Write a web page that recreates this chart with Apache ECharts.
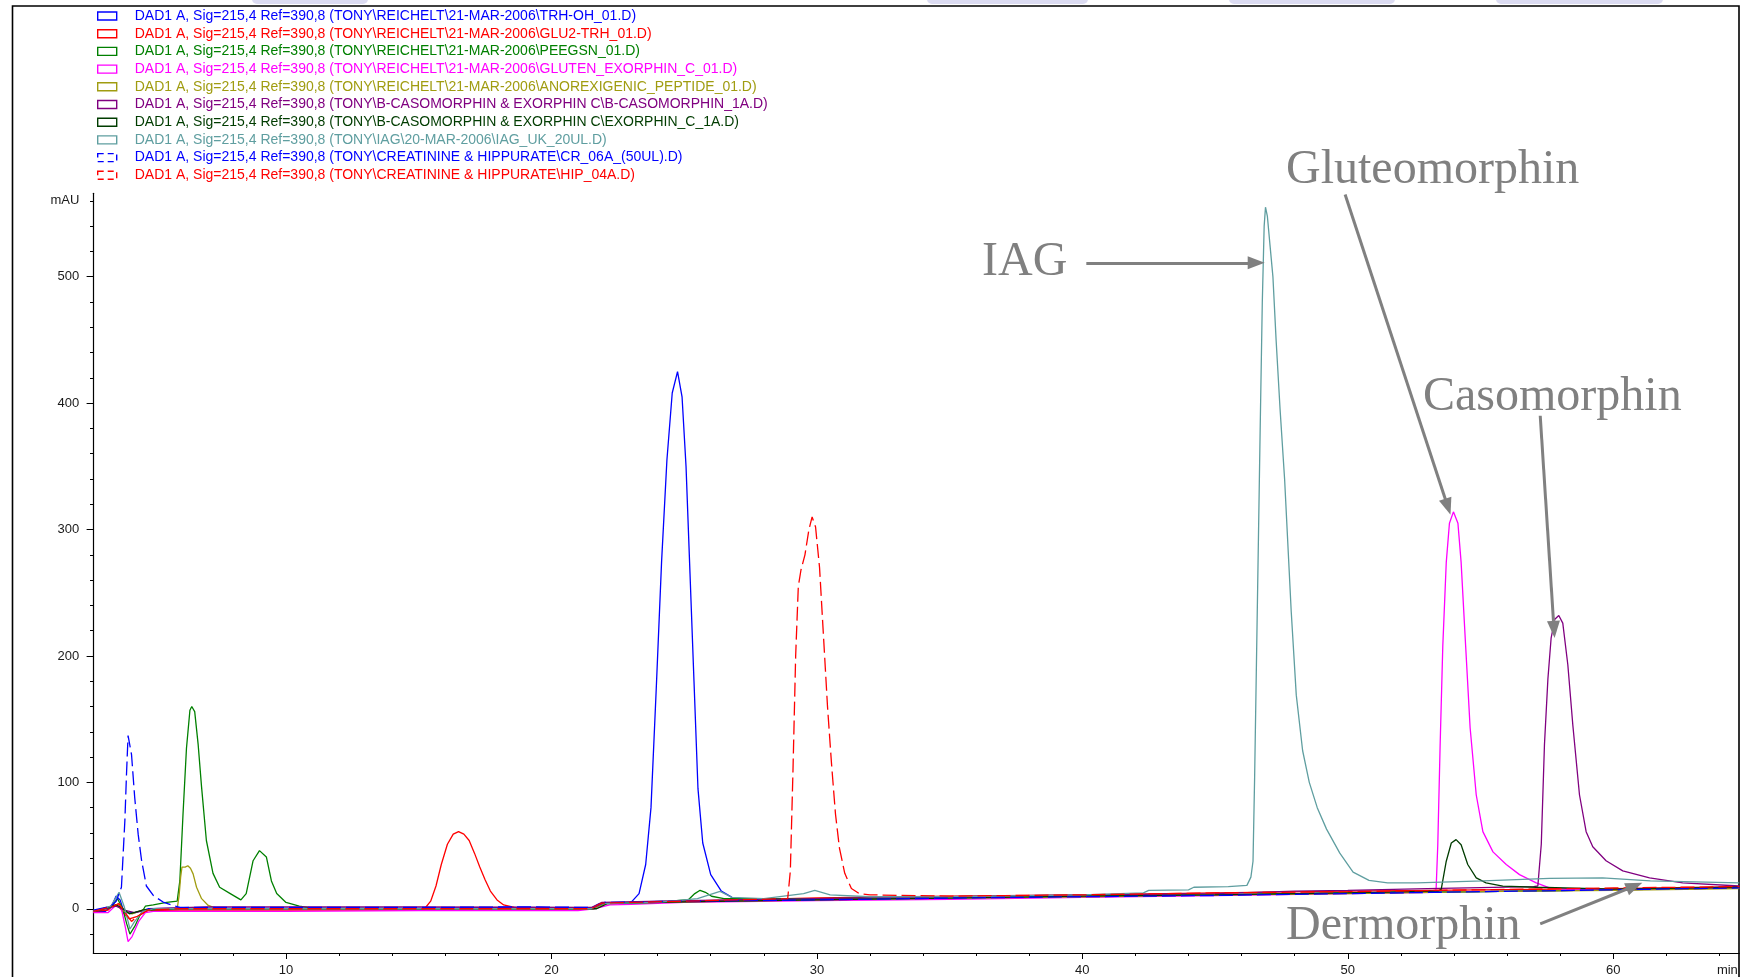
<!DOCTYPE html>
<html>
<head>
<meta charset="utf-8">
<title>HPLC overlay</title>
<script src="https://cdn.jsdelivr.net/npm/echarts@6/dist/echarts.min.js"></script>
<style>html,body{margin:0;padding:0;background:#fff}#main{width:1750px;height:977px}</style>
</head>
<body>
<div id="main"></div>
<script>
var pre = 'DAD1 A, Sig=215,4 Ref=390,8 ';
var names = [
    pre + '(TONY\\REICHELT\\21-MAR-2006\\TRH-OH_01.D)',
    pre + '(TONY\\REICHELT\\21-MAR-2006\\GLU2-TRH_01.D)',
    pre + '(TONY\\REICHELT\\21-MAR-2006\\PEEGSN_01.D)',
    pre + '(TONY\\REICHELT\\21-MAR-2006\\GLUTEN_EXORPHIN_C_01.D)',
    pre + '(TONY\\REICHELT\\21-MAR-2006\\ANOREXIGENIC_PEPTIDE_01.D)',
    pre + '(TONY\\B-CASOMORPHIN & EXORPHIN C\\B-CASOMORPHIN_1A.D)',
    pre + '(TONY\\B-CASOMORPHIN & EXORPHIN C\\EXORPHIN_C_1A.D)',
    pre + '(TONY\\IAG\\20-MAR-2006\\IAG_UK_20UL.D)',
    pre + '(TONY\\CREATININE & HIPPURATE\\CR_06A_(50UL).D)',
    pre + '(TONY\\CREATININE & HIPPURATE\\HIP_04A.D)'
];
var colors = ['#0000ff', '#ff0000', '#008000', '#ff00ff', '#a09c10', '#800080', '#003c00', '#5f9ea0', '#0000ff', '#ff0000'];
var dashed = [false, false, false, false, false, false, false, false, true, true];

// [min, mAU]
var trhOh = [[2.74,-2],[3.2,-2],[3.45,3],[3.6,10],[3.75,7],[3.9,-3],[4.3,-3],[4.8,0],[6,0.5],[10,0.5],[15,0.5],[19,1],[21.5,0.5],[21.8,4],[23.0,5],[23.3,12],[23.55,35],[23.75,80],[23.95,175],[24.15,275],[24.35,355],[24.55,408],[24.75,425],[24.92,405],[25.07,350],[25.22,265],[25.37,180],[25.52,95],[25.7,52],[26.0,27],[26.4,14],[26.8,9],[27.5,7],[30,7.5],[35,9],[40,10],[45,11],[50,12.5],[55,13.5],[60,15],[64.75,16.5]];
var glu2Trh = [[2.74,-2],[3.3,-1],[3.5,3],[3.7,2],[3.9,-4],[4.1,-8],[4.4,-6],[4.8,-1.5],[6,-1],[10,-1],[15,-1],[15.22,0],[15.45,6],[15.65,18],[15.85,35],[16.08,51],[16.3,59],[16.5,61],[16.7,59],[16.9,54],[17.1,44],[17.3,33],[17.5,23],[17.7,14],[17.95,7],[18.2,3],[18.6,1],[19,0],[21.4,-0.5],[21.9,4],[25,6],[30,8.5],[35,10],[40,11],[45,12.5],[50,14],[55,15],[60,16],[64.75,17.5]];
var peegsn = [[2.74,-2],[3.4,1],[3.65,8],[3.85,0],[4.0,-12],[4.12,-20],[4.3,-14],[4.5,-5],[4.7,2],[5.0,3],[5.5,5],[5.9,6],[6.0,22],[6.12,75],[6.25,127],[6.38,157],[6.45,160],[6.56,156],[6.69,130],[6.82,96],[7.0,54],[7.25,28],[7.5,17],[7.9,12],[8.3,7],[8.5,12],[8.76,38],[9.0,46],[9.26,41],[9.45,22],[9.65,12],[10.0,5],[10.5,2],[11,0.5],[15,0],[21.5,0],[21.9,4.5],[24.5,6],[25.17,7.3],[25.4,12],[25.6,14.6],[25.8,13],[26.03,9.9],[26.5,8],[30,8],[35,9],[40,10],[45,11],[50,12.5],[55,13.5],[60,15],[64.75,16.5]];
var glutenExorphin = [[2.74,-3],[3.3,-3],[3.6,3],[3.8,0],[3.95,-15],[4.05,-26],[4.2,-22],[4.45,-10],[4.7,-3],[5,-2],[10,-2],[15,-1.5],[21,-1.5],[21.6,0],[22.2,3],[23,3.5],[25,5],[30,6.5],[35,7.5],[40,9],[45,10.5],[50,12],[53.3,13],[53.33,16.6],[53.39,50],[53.48,130],[53.58,208],[53.71,274],[53.83,305],[53.98,314],[54.15,305],[54.27,274],[54.44,208],[54.61,143],[54.84,90],[55.09,61],[55.47,45],[55.97,35],[56.47,27],[57.1,20.5],[57.6,16.6],[58.5,15],[60,15],[64.75,16.5]];
var anorexigenic = [[2.74,-2],[3.5,2],[3.7,4],[3.9,-2],[4.2,-4],[4.6,-1],[5.9,0],[5.97,10],[6.03,25],[6.08,33],[6.2,33],[6.3,34],[6.4,32],[6.5,27.6],[6.63,17],[6.82,8],[7.07,2.6],[7.25,1.3],[7.6,0],[15,0],[21.6,0],[22,4],[25,5.5],[30,7],[35,8.5],[40,9.5],[45,11],[50,12],[55,13.5],[60,14.5],[64.75,16]];
var casomorphin = [[2.74,-2],[3.6,2],[3.9,-1],[4.3,-3],[5,0],[7,1.5],[15,1.5],[21.5,1],[21.9,5],[25,6.5],[30,8],[35,9.5],[40,11],[45,12],[48,14],[50,14.5],[53,16],[57,17.5],[57.16,18],[57.29,51],[57.41,130],[57.54,182],[57.66,214],[57.8,229],[57.95,232],[58.1,226],[58.29,193],[58.48,145],[58.73,90],[58.98,61],[59.23,49],[59.73,38],[60.36,30],[61.37,24.5],[62.62,20.5],[64.75,18]];
var exorphinC = [[2.74,-2],[3.6,3],[3.8,1],[4.1,-4],[4.6,-1],[6,0],[15,0],[21.7,0],[22.1,4],[25,5.5],[30,7],[35,8.5],[40,10],[45,11],[50,12.5],[53.4,14],[53.52,15.3],[53.71,37.6],[53.9,52],[54.08,54.7],[54.27,50.7],[54.52,35],[54.84,24.4],[55.21,20.5],[55.84,17.9],[57.1,17],[60,15.5],[64.75,17]];
var iag = [[2.74,-2],[3.4,2],[3.71,13],[3.9,2],[4.05,-10],[4.12,-16],[4.3,-10],[4.6,-2],[5,0],[10,0],[15,0],[21.5,0],[21.9,4],[24,5],[25.5,8],[26.35,13.8],[26.8,9],[28,8],[29.5,12],[29.92,14.6],[30.5,11],[32,9.5],[35,9.5],[40,11],[42.3,12.5],[42.5,14.5],[44,15],[44.2,17],[45.5,17.5],[46.2,18.5],[46.35,25],[46.43,37.6],[46.49,103],[46.55,182],[46.61,261],[46.7,380],[46.78,480],[46.85,540],[46.9,555],[46.97,548],[47.07,525],[47.18,500],[47.3,450],[47.45,395],[47.62,340],[47.87,235],[48.06,169],[48.3,125],[48.55,100],[48.85,80],[49.2,63],[49.7,44],[50.2,29],[50.8,22.5],[51.5,20.5],[52.6,20.5],[55.1,22],[57.6,24],[59.6,24.4],[61.4,22],[64.75,20.5]];
var cr06a = [[2.74,-1],[3.4,2],[3.6,6],[3.8,17],[3.93,70],[3.99,106],[4.05,137],[4.12,136],[4.18,122],[4.3,88],[4.43,59],[4.56,38],[4.74,18],[5.0,10.5],[5.37,5.3],[5.75,2.6],[6.0,1],[10,1],[15,1],[19,1.5],[21.6,1],[22,5],[25,6],[30,7],[35,8.5],[40,9.5],[45,10.5],[50,12],[55,13.5],[60,15],[64.75,16.5]];
var hip04a = [[2.74,-2],[3.5,2],[3.7,4],[3.9,-2],[4.18,-10],[4.4,-6],[4.8,-1],[6,0],[15,0],[21.5,0],[21.9,4.5],[25,6],[28.9,8],[29.0,30],[29.1,110],[29.2,200],[29.3,255],[29.4,268],[29.55,280],[29.7,300],[29.82,310],[29.95,302],[30.1,270],[30.25,215],[30.4,160],[30.55,115],[30.7,75],[30.85,48],[31.05,28],[31.3,16],[31.6,12],[32,11],[35,10],[40,11],[45,12.5],[50,13.5],[55,15],[60,16.5],[64.75,17.5]];
var traces = [trhOh, glu2Trh, peegsn, glutenExorphin, anorexigenic, casomorphin, exorphinC, iag, cr06a, hip04a];

var xTicks = [4,6,8,10,12,14,16,18,20,22,24,26,28,30,32,34,36,38,40,42,44,46,48,50,52,54,56,58,60,62,64];
var xLabels = [10, 20, 30, 40, 50, 60];
var yTicks = [-20,0,20,40,60,80,100,120,140,160,180,200,220,240,260,280,300,320,340,360,380,400,420,440,460,480,500,520,540,560];
var yLabels = [0, 100, 200, 300, 400, 500];

// arrows: [from, to] in [min, mAU]; the 'to' point is where the triangle head sits
var arrows = [
    [[40.15, 511], [46.55, 511]],
    [[49.9, 565], [53.77, 318]],
    [[57.25, 390], [57.77, 221]],
    [[57.25, -12], [60.8, 18]]
];

var myChart = echarts.init(document.getElementById('main'));

var series = traces.map(function (d, i) {
    var s = {
        name: names[i],
        type: 'line',
        data: d,
        showSymbol: false,
        symbol: 'none',
        smooth: false,
        silent: true,
        lineStyle: { color: colors[i], width: 1.3, type: dashed[i] ? [14, 5] : 'solid' },
        itemStyle: { color: colors[i] }
    };
    if (i === 7) {
        s.markLine = {
            silent: true,
            symbol: ['none', 'triangle'],
            symbolSize: [13, 17],
            label: { show: false },
            lineStyle: { color: '#808080', width: 3, type: 'solid' },
            emphasis: { disabled: true },
            data: arrows.map(function (a) {
                return [{ coord: a[0] }, { coord: a[1] }];
            })
        };
    }
    return s;
});

var serif = { fontFamily: 'Liberation Serif', fontSize: 48, fill: '#808080' };
function note(text, x, y) {
    return { type: 'text', x: x, y: y, silent: true,
        style: Object.assign({ text: text, verticalAlign: 'middle' }, serif) };
}

myChart.setOption({
    animation: false,
    backgroundColor: '#fff',
    grid: { left: 93.3, right: 10.7, top: 193.3, bottom: 21.3 },
    legend: {
        orient: 'vertical',
        left: 97,
        top: 9,
        padding: 0,
        itemWidth: 19,
        itemHeight: 8,
        itemGap: 3.7,
        selectedMode: false,
        textStyle: { fontFamily: 'Liberation Sans', fontSize: 14, lineHeight: 14, padding: [0, 0, 0, 13] },
        data: names.map(function (n, i) {
            return {
                name: n,
                icon: 'rect',
                itemStyle: { color: '#fff', borderColor: colors[i], borderWidth: 1.4, borderType: dashed[i] ? [6, 4] : 'solid' },
                textStyle: { color: colors[i] }
            };
        })
    },
    xAxis: [{
        type: 'value', min: 2.74, max: 64.75,
        axisLine: { onZero: false, lineStyle: { color: '#000', width: 1.2 } },
        axisTick: { customValues: xTicks, length: 3, lineStyle: { color: '#000' } },
        axisLabel: {
            customValues: xLabels.concat([64.3]), margin: 11,
            fontFamily: 'Liberation Sans', fontSize: 13, color: '#1a1a1a',
            formatter: function (v) { return v > 64 ? 'min' : v; }
        },
        splitLine: { show: false }
    }, {
        type: 'value', min: 2.74, max: 64.75, position: 'bottom',
        axisLine: { show: false, onZero: false },
        axisTick: { customValues: xLabels, length: 6, lineStyle: { color: '#000' } },
        axisLabel: { show: false },
        splitLine: { show: false }
    }],
    yAxis: [{
        type: 'value', min: -35, max: 566,
        axisLine: { show: true, onZero: false, lineStyle: { color: '#000', width: 1.2 } },
        axisTick: { show: true, customValues: yTicks, length: 3.3, lineStyle: { color: '#000' } },
        axisLabel: {
            customValues: yLabels.concat([560]), margin: 14,
            fontFamily: 'Liberation Sans', fontSize: 13, color: '#1a1a1a',
            formatter: function (v) { return v === 560 ? 'mAU' : v; }
        },
        splitLine: { show: false }
    }, {
        type: 'value', min: -35, max: 566, position: 'left',
        axisLine: { show: false, onZero: false },
        axisTick: { show: true, customValues: yLabels, length: 6.7, lineStyle: { color: '#000' } },
        axisLabel: { show: false },
        splitLine: { show: false }
    }],
    graphic: [
        // faint shapes at the top edge
        { type: 'rect', shape: { x: 252, y: -6, width: 116, height: 10, r: 5 }, style: { fill: '#dcdcf2' }, silent: true },
        { type: 'rect', shape: { x: 927, y: -6, width: 161, height: 10, r: 5 }, style: { fill: '#dcdcf2' }, silent: true },
        { type: 'rect', shape: { x: 1229, y: -6, width: 166, height: 10, r: 5 }, style: { fill: '#dcdcf2' }, silent: true },
        { type: 'rect', shape: { x: 1496, y: -6, width: 167, height: 10, r: 5 }, style: { fill: '#dcdcf2' }, silent: true },
        // frame
        { type: 'polyline', shape: { points: [[12.5, 977], [12.5, 6], [1739, 6], [1739, 977]] }, style: { stroke: '#000', lineWidth: 1.6, fill: null }, silent: true },
        note('IAG', 982, 262),
        note('Gluteomorphin', 1286, 170),
        note('Casomorphin', 1423, 397),
        note('Dermorphin', 1286, 926)
    ],
    series: series
});
</script>
</body>
</html>
